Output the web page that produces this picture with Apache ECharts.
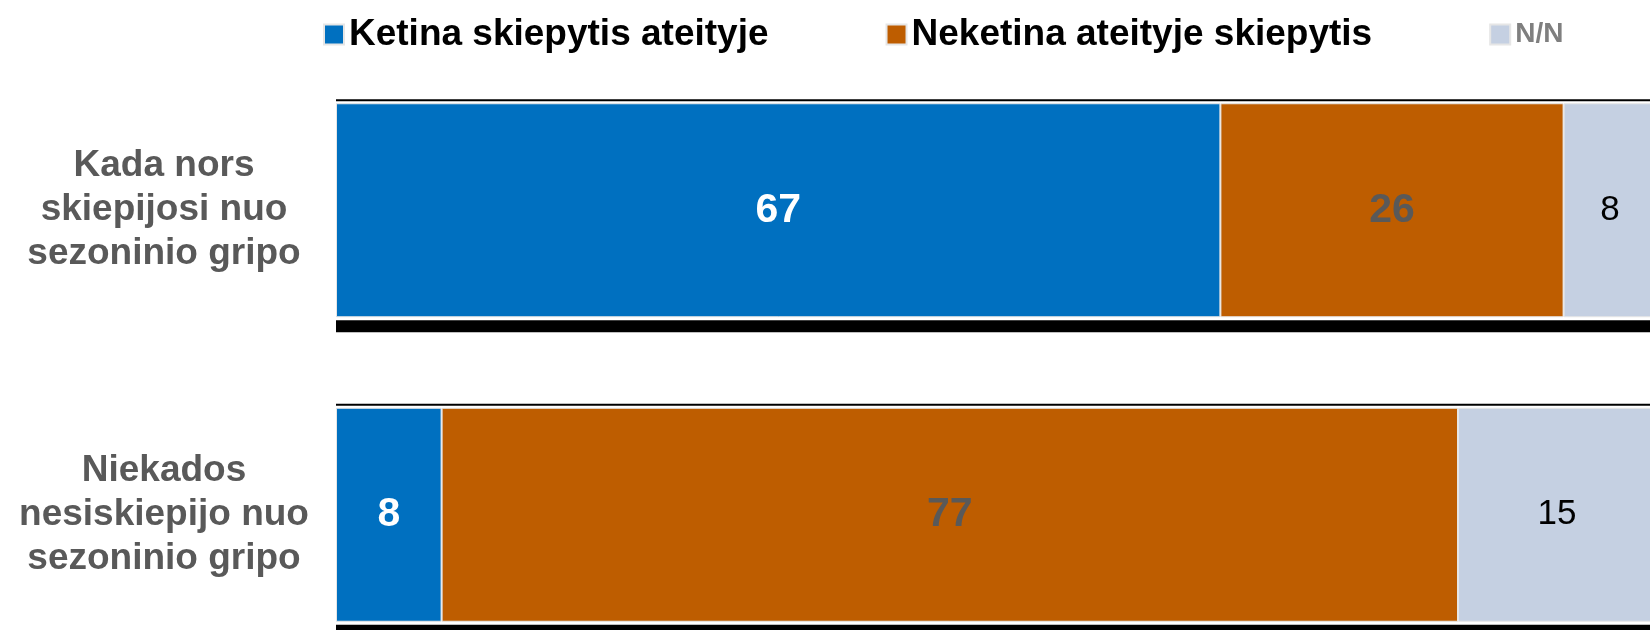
<!DOCTYPE html>
<html>
<head>
<meta charset="utf-8">
<script src="https://cdn.jsdelivr.net/npm/echarts@6/dist/echarts.min.js"></script>
<style>
  html, body { margin: 0; padding: 0; background: #fff; }
  #main { width: 1650px; height: 630px; }
</style>
</head>
<body>
<div id="main"></div>
<script>
// data
var categories = [
  "Kada nors\nskiepijosi nuo\nsezoninio gripo",
  "Niekados\nnesiskiepijo nuo\nsezoninio gripo"
];
var seriesNames = ["Ketina skiepytis ateityje", "Neketina ateityje skiepytis", "N/N"];
var ketina = [67, 8];
var neketina = [26, 77];
var nn = [8, 15];

var FONT = "'Liberation Sans', Arial, sans-serif";
var barH = 214;

var myChart = echarts.init(document.getElementById("main"));

function labelOf(color, weight, size) {
  return {
    show: true,
    position: "inside",
    color: color,
    fontWeight: weight,
    fontSize: size,
    fontFamily: FONT
  };
}

var option = {
  animation: false,
  backgroundColor: "#fff",
  legend: {
    left: 318,
    top: 11,
    icon: "rect",
    itemWidth: 20,
    itemHeight: 20,
    itemGap: 117,
    data: [
      { name: seriesNames[0], textStyle: { color: "#000", fontSize: 37, fontWeight: "bold", fontFamily: FONT } },
      { name: seriesNames[1], textStyle: { color: "#000", fontSize: 37, fontWeight: "bold", fontFamily: FONT } },
      { name: seriesNames[2], textStyle: { color: "#7f7f7f", fontSize: 28, fontWeight: "bold", fontFamily: FONT } }
    ]
  },
  grid: {
    left: 336,
    top: 58,
    width: 1320,
    height: 609,
    containLabel: false,
    outerBoundsMode: "none"
  },
  xAxis: {
    type: "value",
    min: 0,
    max: 100,
    show: false
  },
  yAxis: {
    type: "category",
    inverse: true,
    data: categories,
    axisLine: { show: false },
    axisTick: { show: false },
    splitLine: { show: false },
    axisLabel: {
      align: "center",
      margin: 172,
      color: "#595959",
      fontSize: 37,
      fontWeight: "bold",
      lineHeight: 44,
      fontFamily: FONT
    }
  },
  series: [
    {
      name: seriesNames[0],
      type: "bar",
      stack: "all",
      barWidth: barH,
      itemStyle: { color: "#0070C0", borderColor: "#e6e6e6", borderWidth: 1 },
      label: labelOf("#fff", "bold", 41),
      data: ketina
    },
    {
      name: seriesNames[1],
      type: "bar",
      stack: "all",
      barWidth: barH,
      itemStyle: { color: "#BE5D00", borderColor: "#e6e6e6", borderWidth: 1 },
      label: labelOf("#595959", "bold", 41),
      data: neketina
    },
    {
      name: seriesNames[2],
      type: "bar",
      stack: "all",
      barWidth: barH,
      itemStyle: { color: "#C5D0E2", borderColor: "#e6e6e6", borderWidth: 1 },
      label: labelOf("#000", "normal", 35),
      data: nn
    },
    {
      // black rules above and below each bar
      name: "rules",
      type: "custom",
      silent: true,
      clip: false,
      encode: { x: 0, y: 1 },
      data: categories.map(function (c, i) { return [100, i]; }),
      renderItem: function (params, api) {
        var idx = api.value(1);
        var p0 = api.coord([0, idx]);
        var p1 = api.coord([100, idx]);
        var w = p1[0] - p0[0];
        var half = barH / 2;
        return {
          type: "group",
          children: [
            { type: "rect", shape: { x: p0[0], y: p0[1] - half - 4, width: w, height: 2 }, style: { fill: "#000" } },
            { type: "rect", shape: { x: p0[0], y: p0[1] + half + 3, width: w, height: 12 }, style: { fill: "#000" } }
          ]
        };
      }
    }
  ]
};

myChart.setOption(option);
</script>
</body>
</html>
